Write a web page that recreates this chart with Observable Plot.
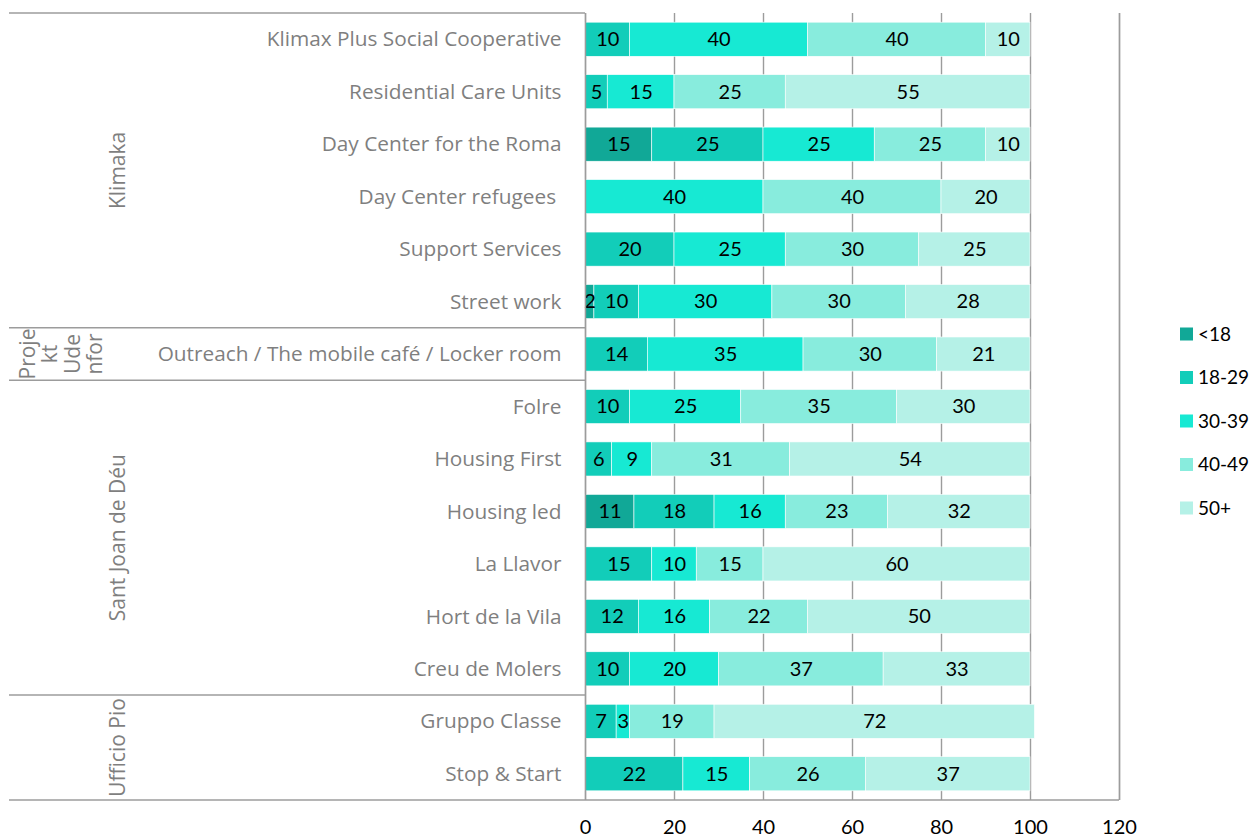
<!DOCTYPE html>
<html><head><meta charset="utf-8">
<script src="https://cdn.jsdelivr.net/npm/d3@7"></script>
<script src="https://cdn.jsdelivr.net/npm/@observablehq/plot@0.6"></script>
<style>
body{margin:0;background:#fff}
#wrap{position:relative;width:1257px;height:840px}
</style>
</head><body><div id="wrap"></div>
<script>
const categories = [
  "Klimax Plus Social Cooperative","Residential Care Units","Day Center for the Roma",
  "Day Center refugees ","Support Services","Street work",
  "Outreach / The mobile café / Locker room",
  "Folre","Housing First","Housing led","La Llavor","Hort de la Vila","Creu de Molers",
  "Gruppo Classe","Stop & Start"
];
const groupNames = ["Klimaka","Projekt Udenfor","Sant Joan de Déu","Ufficio Pio"];
const groupLines = [["Klimaka"],["Proje","kt","Ude","nfor"],["Sant Joan de Déu"],["Ufficio Pio"]];
const groupOf = [0,0,0,0,0,0,1,2,2,2,2,2,2,3,3];
const ageGroups = ["<18","18-29","30-39","40-49","50+"];
const under18   = [0,0,15,0,0,2,0,0,0,11,0,0,0,0,0];
const age18_29  = [10,5,25,0,20,10,14,10,6,18,15,12,10,7,22];
const age30_39  = [40,15,25,40,25,30,35,25,9,16,10,16,20,3,15];
const age40_49  = [40,25,25,40,30,30,30,35,31,23,15,22,37,19,26];
const age50plus = [10,55,10,20,25,28,21,30,54,32,60,50,33,72,37];
const colors = ["#11a897","#12cdb9","#17e9d3","#88ecdd","#b5f1e7"];
const xTicks = [0,20,40,60,80,100,120];

const series = [under18, age18_29, age30_39, age40_49, age50plus];
const table = [];
categories.forEach((c, i) => {
  ageGroups.forEach((a, j) => {
    if (series[j][i] > 0) table.push({cat: c, age: a, value: series[j][i]});
  });
});

const numFont = "Lato, 'Open Sans', sans-serif";
const catFont = "'Open Sans', sans-serif";
const gray = "#7f7f7f";
const lineCol = "#9c9c9c";

const chart = Plot.plot({
  width: 1257, height: 840,
  marginLeft: 585, marginRight: 138, marginTop: 13, marginBottom: 40,
  style: {fontFamily: catFont, background: "#fff"},
  x: {domain: [0, 120], label: null},
  y: {domain: categories, paddingInner: 0.35, paddingOuter: 0.175, round: false, label: null},
  color: {domain: ageGroups, range: colors},
  marks: [
    Plot.gridX(xTicks, {stroke: lineCol, strokeOpacity: 1, strokeWidth: 1.4}),
    Plot.barX(table, Plot.stackX({x: "value", y: "cat", z: "age", fill: "age", stroke: "#fff", strokeWidth: 0.6})),
    Plot.text(table, Plot.stackX({x: "value", y: "cat", z: "age", text: d => String(d.value),
      fill: "#000", fontSize: 20, fontFamily: numFont})),
    Plot.axisX(xTicks, {tickSize: 0, tickPadding: 19, fontSize: 20, fontFamily: numFont, fill: "#000", label: null}),
    Plot.axisY({tickSize: 0, tickPadding: 24, fontSize: 20.8, fill: gray, fontFamily: catFont,
      tickFormat: d => d.replace(/ $/, "\u00a0"), label: null}),
    Plot.ruleX([0, 120], {stroke: lineCol, strokeWidth: 1.4})
  ]
});
document.getElementById("wrap").appendChild(chart);

{
  const ys = chart.scale("y");
  const xs = chart.scale("x");
  const half = (ys.step - ys.bandwidth) / 2;
  const yBottom = ys.apply(categories[categories.length - 1]) + ys.bandwidth + half;
  const svg = d3.select(chart);
  const g = svg.append("g");

  const boundaries = [];
  groupNames.forEach((gname, gi) => {
    const idx = groupOf.map((v, i) => v === gi ? i : -1).filter(i => i >= 0);
    const y0 = ys.apply(categories[idx[0]]) - half;
    const y1 = ys.apply(categories[idx[idx.length - 1]]) + ys.bandwidth + half;
    boundaries.push(y0);
    const cy = (y0 + y1) / 2;
    const lines = groupLines[gi];
    const lineH = 22.5;
    const cx = lines.length === 1 ? 118 : 61;
    lines.forEach((t, k) => {
      const x = cx + (k - (lines.length - 1) / 2) * lineH;
      g.append("text")
        .attr("transform", `translate(${x},${cy}) rotate(-90)`)
        .attr("text-anchor", "middle").attr("dy", "0.35em")
        .attr("font-family", catFont).attr("font-size", 21).attr("fill", gray)
        .text(t);
    });
  });
  boundaries.forEach(y => {
    g.append("line").attr("x1", 9).attr("x2", xs.apply(0)).attr("y1", y).attr("y2", y)
      .attr("stroke", lineCol).attr("stroke-width", 1.4);
  });
  g.append("line").attr("x1", 9).attr("x2", xs.apply(120)).attr("y1", yBottom).attr("y2", yBottom)
    .attr("stroke", lineCol).attr("stroke-width", 1.4);

  const lg = svg.append("g");
  ageGroups.forEach((a, i) => {
    const cy = 334 + i * 43.5;
    lg.append("rect").attr("x", 1180).attr("y", cy - 6.5).attr("width", 13).attr("height", 13).attr("fill", colors[i]);
    lg.append("text").attr("x", 1198).attr("y", cy).attr("dy", "0.36em").attr("text-anchor", "start")
      .attr("font-family", numFont).attr("font-size", 19).attr("fill", "#000").text(a);
  });
}
</script>
</body></html>
